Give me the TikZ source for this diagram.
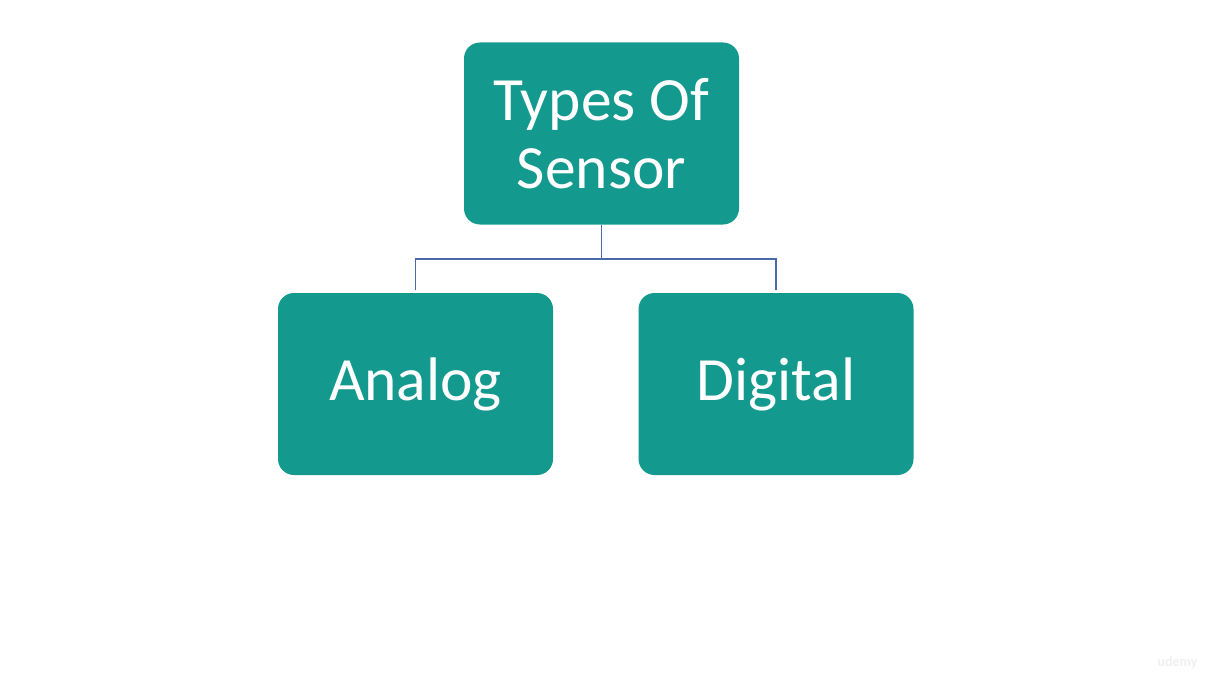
\documentclass[tikz,border=0pt]{standalone}
\usepackage{fontspec}
\setmainfont{Carlito}
\usepackage{tikz}
\usetikzlibrary{shapes,arrows}
\definecolor{sensorteal}{HTML}{13998D}
\definecolor{linkblue}{HTML}{4A6AA8}
\tikzset{
  sensorbox/.style = {rectangle, rounded corners=0.32cm, fill=sensorteal,
                      text=white, minimum width=5.5cm, minimum height=3.64cm,
                      align=center, font=\fontsize{35}{38.5}\selectfont},
  treelink/.style  = {draw=linkblue, line width=0.8pt, shorten >=1.7pt}
}

\begin{document}
\begin{tikzpicture}
  \useasboundingbox (0,0) rectangle (24.14,13.44);
  \node[sensorbox] (types)   at (12.03,10.77) {Types Of\\Sensor};
  \node[sensorbox] (analog)  at (8.31,5.76)   {Analog};
  \node[sensorbox] (digital) at (15.52,5.76)  {Digital};
  \draw[treelink] (types.south) -- ++(0,-0.68) -| (analog.north);
  \draw[treelink] (types.south) -- ++(0,-0.68) -| (digital.north);
  % watermark
  \node[text=gray!12, font=\bfseries\fontsize{8}{9}\selectfont] (mark) at (23.55,0.18) {udemy};
\end{tikzpicture}
\end{document}
